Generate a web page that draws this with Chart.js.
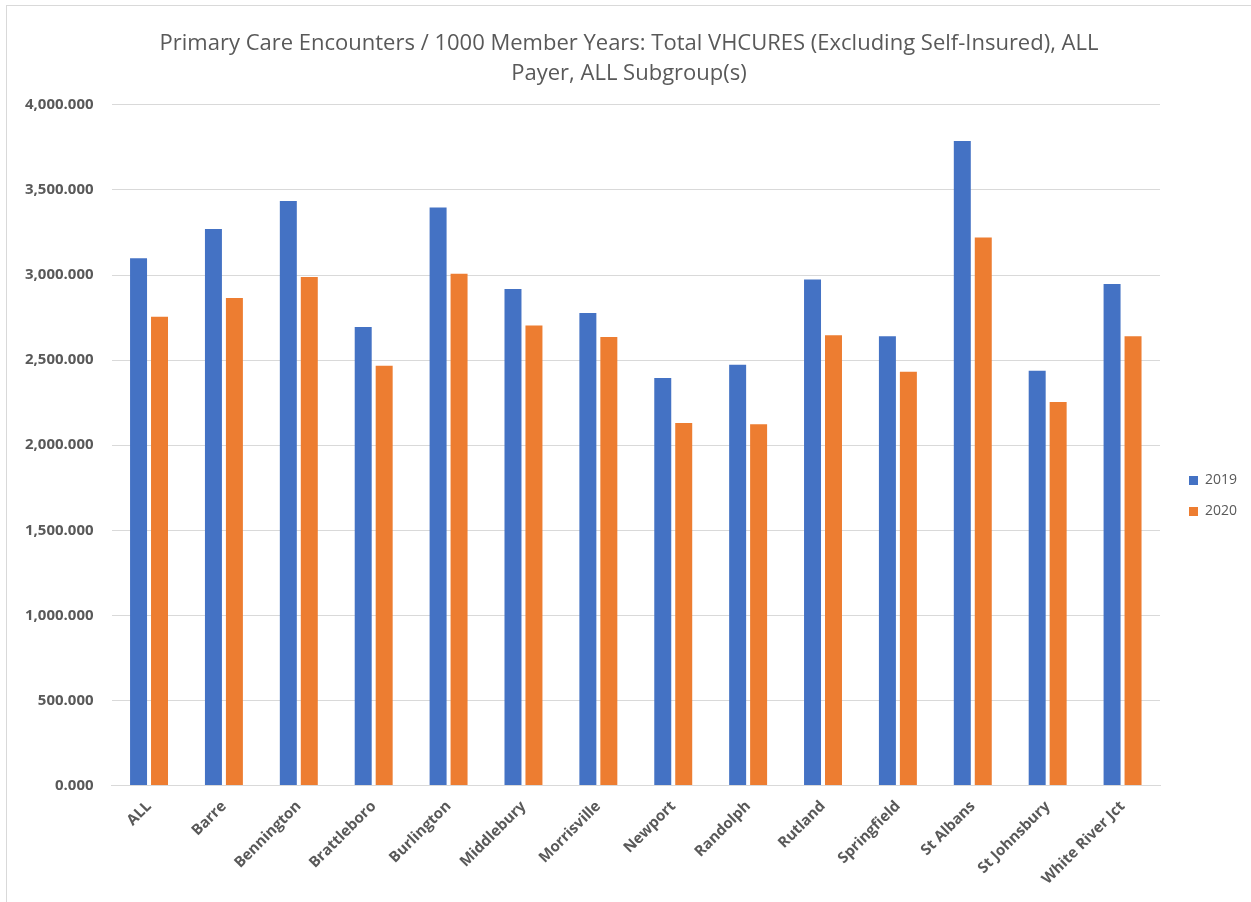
<!DOCTYPE html>
<html>
<head>
<meta charset="utf-8">
<script src="https://cdn.jsdelivr.net/npm/chart.js@4"></script>
<style>
  body { margin: 0; background: #fff; }
  #frame { position: absolute; left: 6px; top: 5px; width: 1250px; height: 900px; border: 1px solid #d9d9d9; }
  #wrap { position: absolute; left: 7px; top: 6px; width: 1244px; height: 896px; }
</style>
</head>
<body>
<div id="frame"></div>
<div id="wrap"><canvas id="myChart"></canvas></div>
<script>
let categories = ['ALL', 'Barre', 'Bennington', 'Brattleboro', 'Burlington', 'Middlebury', 'Morrisville',
  'Newport', 'Randolph', 'Rutland', 'Springfield', 'St Albans', 'St Johnsbury', 'White River Jct'];
let values2019 = [3098, 3270, 3435, 2695, 3397, 2918, 2777, 2395, 2472, 2974, 2640, 3787, 2438, 2947];
let values2020 = [2755, 2865, 2988, 2466, 3008, 2703, 2636, 2131, 2123, 2646, 2431, 3221, 2253, 2640];
let seriesNames = ['2019', '2020'];

const grey = '#595959';
Chart.defaults.font.family = '"Open Sans", sans-serif';
Chart.defaults.color = grey;

// widen the legend box and nudge it, so the plot ends where the reference does
const legendSpace = {
  id: 'legendSpace',
  beforeInit(chart) {
    const fit = chart.legend.fit;
    chart.legend.fit = function () {
      fit.call(this);
      this.width = 91;
    };
  },
  afterLayout(chart) {
    const lg = chart.legend;
    lg.left += 12; lg.right += 12;
    lg.top += 43; lg.bottom += 43;
  }
};

let ctx = document.getElementById('myChart').getContext('2d');
let encountersChart = new Chart(ctx, {
  type: 'bar',
  data: {
    labels: categories,
    datasets: [{
      label: seriesNames[0],
      data: values2019,
      backgroundColor: '#4472C4',
      borderWidth: 0
    }, {
      label: seriesNames[1],
      data: values2020,
      backgroundColor: '#ED7D31',
      borderWidth: 0
    }]
  },
  options: {
    responsive: true,
    maintainAspectRatio: false,
    animation: false,
    categoryPercentage: 0.56,
    barPercentage: 0.81,
    layout: { padding: { left: 0, right: 0, top: 0, bottom: 2 } },
    plugins: {
      title: {
        display: true,
        text: ['Primary Care Encounters / 1000 Member Years: Total VHCURES (Excluding Self-Insured), ALL',
          'Payer, ALL Subgroup(s)'],
        color: grey,
        font: { size: 22, weight: 'normal', lineHeight: 1.36 },
        padding: { top: 23, bottom: 16 }
      },
      legend: {
        position: 'right',
        labels: {
          boxWidth: 9,
          boxHeight: 9,
          padding: 17,
          color: grey,
          font: { size: 14 }
        }
      },
      tooltip: { enabled: false }
    },
    scales: {
      x: {
        grid: { display: false, drawTicks: false },
        border: { color: '#d9d9d9' },
        ticks: {
          maxRotation: 45,
          minRotation: 45,
          padding: 12,
          color: grey,
          font: { size: 15, weight: 'bold' }
        }
      },
      y: {
        min: 0,
        max: 4000,
        grid: { color: '#d9d9d9', drawTicks: false },
        border: { display: false },
        ticks: {
          stepSize: 500,
          padding: 18,
          color: grey,
          font: { size: 15, weight: 'bold' },
          callback: v => v.toLocaleString('en-US', { minimumFractionDigits: 3, maximumFractionDigits: 3 })
        }
      }
    }
  },
  plugins: [legendSpace]
});
</script>
</body>
</html>
